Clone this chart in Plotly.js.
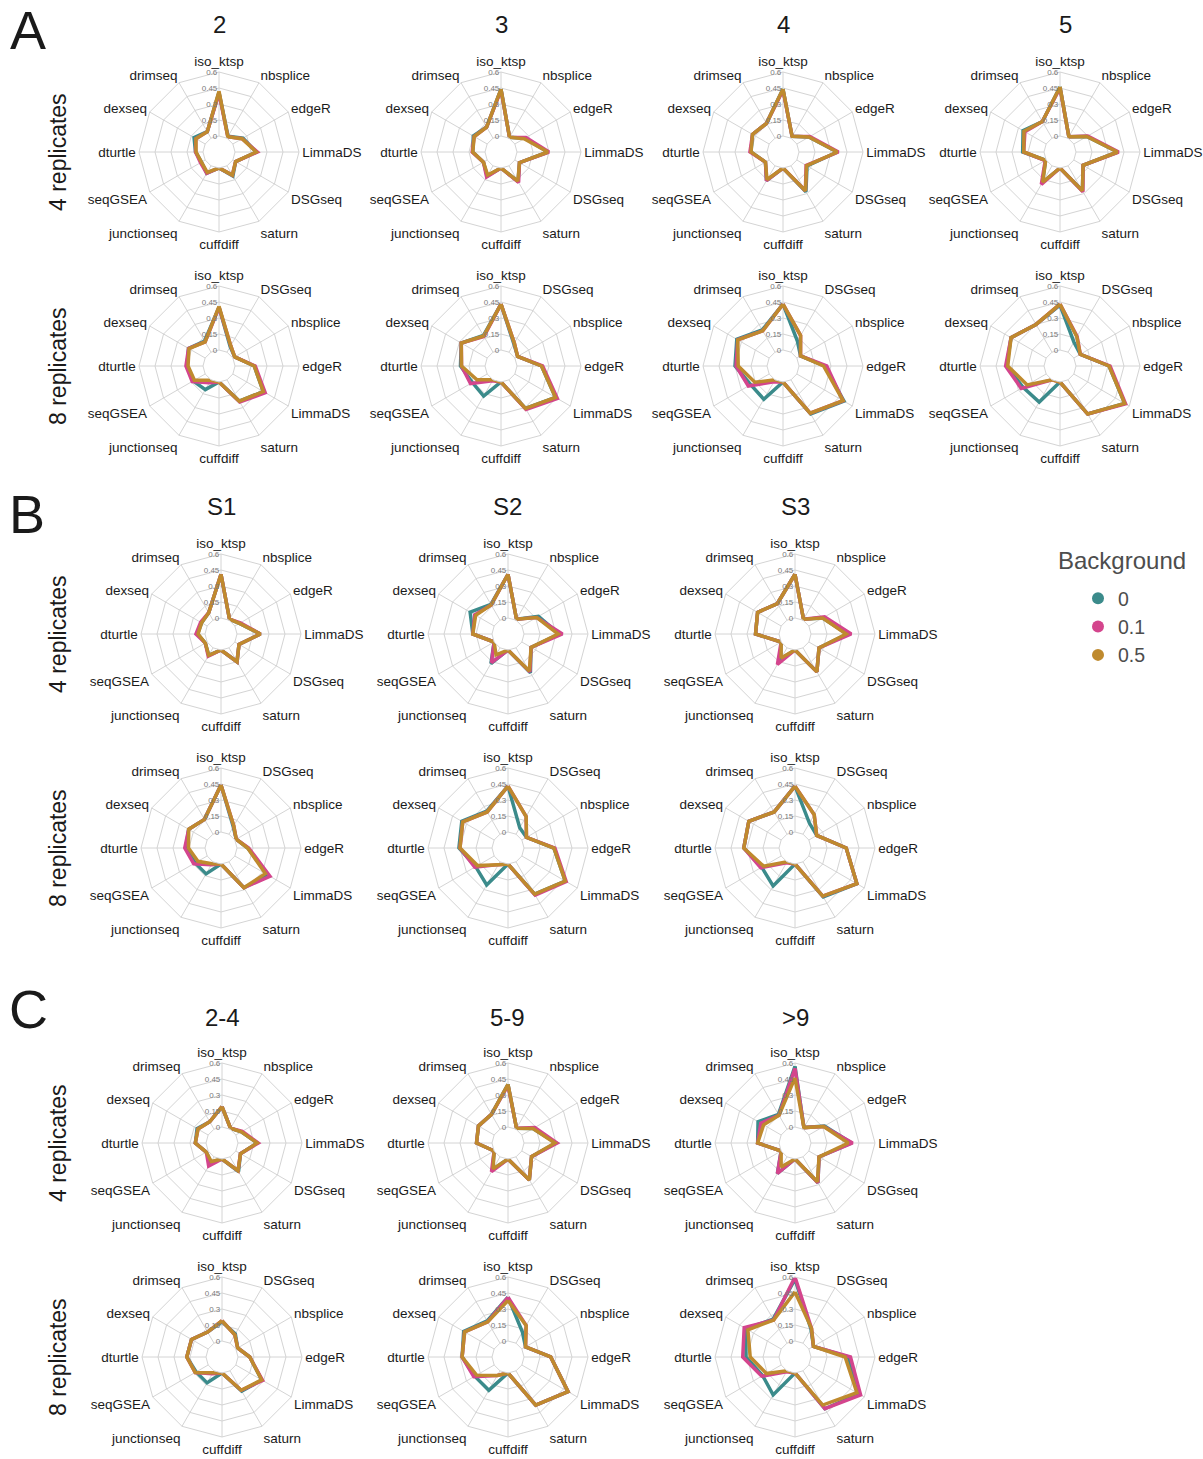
<!DOCTYPE html>
<html>
<head>
<meta charset="utf-8">
<script src="https://cdn.plot.ly/plotly-3.0.1.min.js"></script>
<style>html,body{margin:0;padding:0;background:#fff;}#chart{width:1203px;height:1459px;}</style>
</head>
<body>
<div id="chart"></div>
<script>
// ---------- DATA ----------
const cats4 = ['iso_ktsp','nbsplice','edgeR','LimmaDS','DSGseq','saturn','cuffdiff','junctionseq','seqGSEA','dturtle','dexseq','drimseq'];
const cats8 = ['iso_ktsp','DSGseq','nbsplice','edgeR','LimmaDS','saturn','cuffdiff','junctionseq','seqGSEA','dturtle','dexseq','drimseq'];
const backgrounds = ['0','0.1','0.5'];
const legendTitle = 'Background';
const radialTicks = [0, 0.15, 0.3, 0.45, 0.6];
const radialTickText = ['0','0.15','0.3','0.45','0.6'];
const titlesA = ['2','3','4','5'];
const titlesB = ['S1','S2','S3'];
const titlesC = ['2-4','5-9','>9'];
const rowLabels = ['4 replicates','8 replicates'];

// each panel: [background 0, background 0.1, background 0.5]
const A_2_rep4 = [
  [0.41,0.02,0.11,0.20,0.03,0.11,0,0.08,0.04,0.07,0.12,0.07],
  [0.40,0.015,0.10,0.21,0.03,0.10,0,0.08,0.05,0.07,0.10,0.07],
  [0.42,0.015,0.10,0.20,0.03,0.10,0,0.07,0.04,0.065,0.10,0.07]];
const A_3_rep4 = [
  [0.44,0.01,0.11,0.29,0.05,0.17,0,0.11,0.04,0.115,0.15,0.12],
  [0.43,0.01,0.12,0.30,0.05,0.18,0,0.12,0.04,0.12,0.14,0.12],
  [0.44,0.01,0.10,0.29,0.05,0.165,0,0.10,0.04,0.115,0.14,0.12]];
const A_4_rep4 = [
  [0.44,0.02,0.13,0.36,0.11,0.28,0,0.16,0.04,0.15,0.18,0.16],
  [0.43,0.02,0.14,0.37,0.10,0.27,0,0.16,0.04,0.16,0.18,0.16],
  [0.44,0.02,0.13,0.36,0.105,0.27,0,0.15,0.04,0.15,0.18,0.16]];
const A_5_rep4 = [
  [0.46,0.016,0.14,0.39,0.10,0.27,0,0.18,0.005,0.20,0.25,0.18],
  [0.45,0.016,0.15,0.40,0.10,0.28,0,0.20,0.01,0.19,0.23,0.18],
  [0.46,0.016,0.14,0.39,0.10,0.27,0,0.175,0.005,0.19,0.24,0.18]];
const A_2_rep8 = [
  [0.40,0.06,0.02,0.18,0.33,0.23,0,0.106,0.13,0.15,0.18,0.12],
  [0.40,0.07,0.02,0.19,0.35,0.24,0,0.03,0.14,0.16,0.18,0.11],
  [0.41,0.07,0.02,0.18,0.33,0.23,0,0.005,0.116,0.14,0.175,0.11]];
const A_3_rep8 = [
  [0.43,0.09,0.03,0.23,0.44,0.31,0,0.175,0.16,0.23,0.28,0.18],
  [0.43,0.10,0.03,0.24,0.46,0.32,0,0.01,0.18,0.22,0.28,0.17],
  [0.43,0.10,0.03,0.23,0.44,0.31,0,0.0,0.11,0.22,0.28,0.175]];
const A_4_rep8 = [
  [0.43,0.12,0.04,0.24,0.51,0.37,0,0.21,0.20,0.30,0.35,0.24],
  [0.43,0.18,0.04,0.26,0.50,0.36,0,0.02,0.225,0.29,0.34,0.23],
  [0.43,0.18,0.04,0.23,0.50,0.36,0,0.0,0.155,0.27,0.34,0.23]];
const A_5_rep8 = [
  [0.42,0.11,0.07,0.31,0.55,0.37,0,0.24,0.25,0.35,0.38,0.30],
  [0.43,0.17,0.07,0.32,0.56,0.37,0,0.0,0.27,0.36,0.38,0.30],
  [0.43,0.166,0.07,0.31,0.55,0.37,0,0.0,0.205,0.34,0.38,0.30]];
const B_S1_rep4 = [
  [0.41,0.01,0.05,0.22,0.045,0.15,0,0.08,0.02,0.07,0.06,0.08],
  [0.41,0.01,0.06,0.22,0.045,0.15,0,0.09,0.02,0.085,0.07,0.08],
  [0.41,0.01,0.05,0.22,0.045,0.15,0,0.08,0.02,0.065,0.06,0.08]];
const B_S2_rep4 = [
  [0.41,0.01,0.18,0.33,0.10,0.27,0,0.17,0.0,0.18,0.26,0.17],
  [0.41,0.01,0.16,0.36,0.10,0.26,0,0.16,0.0,0.18,0.21,0.165],
  [0.41,0.01,0.16,0.32,0.10,0.25,0,0.075,0.0,0.18,0.20,0.165]];
const B_S3_rep4 = [
  [0.41,0.01,0.15,0.34,0.11,0.26,0,0.12,0.0,0.22,0.255,0.18],
  [0.41,0.01,0.17,0.377,0.11,0.26,0,0.18,0.0,0.22,0.255,0.18],
  [0.41,0.01,0.15,0.33,0.11,0.26,0,0.11,0.0,0.22,0.255,0.18]];
const B_S1_rep8 = [
  [0.44,0.08,0.015,0.10,0.36,0.28,0,0.13,0.13,0.18,0.20,0.16],
  [0.44,0.09,0.015,0.11,0.38,0.28,0,0.03,0.145,0.19,0.20,0.16],
  [0.44,0.09,0.015,0.10,0.33,0.28,0,0.02,0.10,0.155,0.20,0.16]];
const B_S2_rep8 = [
  [0.43,0.07,0.05,0.28,0.47,0.35,0,0.25,0.20,0.31,0.35,0.25],
  [0.43,0.19,0.05,0.29,0.48,0.36,0,0.03,0.21,0.30,0.34,0.24],
  [0.43,0.19,0.05,0.28,0.47,0.35,0,0.03,0.18,0.30,0.34,0.24]];
const B_S3_rep8 = [
  [0.43,0.12,0.085,0.33,0.52,0.38,0,0.26,0.21,0.33,0.35,0.24],
  [0.43,0.21,0.085,0.33,0.52,0.37,0,0.01,0.22,0.33,0.35,0.24],
  [0.43,0.21,0.085,0.33,0.52,0.37,0,0.0,0.19,0.33,0.35,0.24]];
const C_24_rep4 = [
  [0.19,0.01,0.06,0.18,0.05,0.16,0,0.06,0.02,0.10,0.12,0.08],
  [0.19,0.01,0.07,0.19,0.05,0.15,0,0.10,0.02,0.10,0.11,0.08],
  [0.19,0.01,0.06,0.18,0.05,0.15,0,0.05,0.02,0.10,0.11,0.08]];
const C_59_rep4 = [
  [0.40,0.01,0.12,0.30,0.105,0.25,0,0.14,0.0,0.145,0.17,0.16],
  [0.39,0.01,0.14,0.31,0.105,0.25,0,0.16,0.0,0.145,0.17,0.16],
  [0.40,0.01,0.12,0.29,0.105,0.25,0,0.13,0.0,0.145,0.17,0.16]];
const C_9_rep4 = [
  [0.57,0.017,0.17,0.38,0.11,0.28,0,0.18,0.0,0.20,0.25,0.16],
  [0.55,0.017,0.16,0.39,0.11,0.28,0,0.18,0.0,0.20,0.22,0.15],
  [0.46,0.017,0.16,0.35,0.11,0.27,0,0.11,0.0,0.20,0.19,0.15]];
const C_24_rep8 = [
  [0.18,0.10,0.02,0.11,0.28,0.22,0,0.13,0.13,0.18,0.18,0.12],
  [0.19,0.09,0.02,0.11,0.29,0.21,0,0.03,0.14,0.18,0.18,0.12],
  [0.19,0.09,0.02,0.11,0.28,0.21,0,0.02,0.14,0.18,0.18,0.12]];
const C_59_rep8 = [
  [0.41,0.12,0.04,0.25,0.50,0.37,0,0.21,0.21,0.28,0.33,0.24],
  [0.41,0.19,0.04,0.25,0.50,0.37,0,0.05,0.22,0.28,0.32,0.23],
  [0.38,0.19,0.04,0.25,0.50,0.37,0,0.05,0.19,0.28,0.32,0.23]];
const C_9_rep8 = [
  [0.58,0.15,0.05,0.35,0.54,0.41,0,0.26,0.20,0.31,0.38,0.26],
  [0.60,0.16,0.05,0.37,0.56,0.41,0,0.01,0.21,0.34,0.40,0.25],
  [0.46,0.16,0.05,0.32,0.52,0.37,0,0.0,0.16,0.27,0.36,0.25]];

// ---------- LAYOUT / STYLE ----------
const W = 1203, H = 1459, RAD = 80;
const colors = ['#3B8B8B', '#D4458D', '#BF8A2E'];
const FONT = 'Liberation Sans, Arial, Helvetica, sans-serif';
const fx = x => x / W;
const fy = y => 1 - y / H;

const panels = [
  {v: A_2_rep4, c: cats4, cx: 219, cy: 152}, {v: A_3_rep4, c: cats4, cx: 501, cy: 152},
  {v: A_4_rep4, c: cats4, cx: 783, cy: 152}, {v: A_5_rep4, c: cats4, cx: 1060, cy: 152},
  {v: A_2_rep8, c: cats8, cx: 219, cy: 366}, {v: A_3_rep8, c: cats8, cx: 501, cy: 366},
  {v: A_4_rep8, c: cats8, cx: 783, cy: 366}, {v: A_5_rep8, c: cats8, cx: 1060, cy: 366},
  {v: B_S1_rep4, c: cats4, cx: 221, cy: 634}, {v: B_S2_rep4, c: cats4, cx: 508, cy: 634},
  {v: B_S3_rep4, c: cats4, cx: 795, cy: 634},
  {v: B_S1_rep8, c: cats8, cx: 221, cy: 848}, {v: B_S2_rep8, c: cats8, cx: 508, cy: 848},
  {v: B_S3_rep8, c: cats8, cx: 795, cy: 848},
  {v: C_24_rep4, c: cats4, cx: 222, cy: 1143}, {v: C_59_rep4, c: cats4, cx: 508, cy: 1143},
  {v: C_9_rep4, c: cats4, cx: 795, cy: 1143},
  {v: C_24_rep8, c: cats8, cx: 222, cy: 1357}, {v: C_59_rep8, c: cats8, cx: 508, cy: 1357},
  {v: C_9_rep8, c: cats8, cx: 795, cy: 1357}
];

const closeLoop = a => a.concat([a[0]]);
const traces = [];
const layout = {
  width: W, height: H,
  margin: {l: 0, r: 0, t: 0, b: 0},
  paper_bgcolor: '#ffffff',
  font: {family: FONT, color: '#1a1a1a'},
  showlegend: true,
  legend: {
    x: fx(1078), y: fy(579), xanchor: 'left', yanchor: 'top',
    font: {size: 19.5, color: '#4d4d4d'},
    itemsizing: 'constant', tracegroupgap: 0,
    bgcolor: 'rgba(0,0,0,0)'
  },
  annotations: []
};

panels.forEach((p, i) => {
  const name = i === 0 ? 'polar' : 'polar' + (i + 1);
  layout[name] = {
    domain: {x: [fx(p.cx - RAD), fx(p.cx + RAD)], y: [fy(p.cy + RAD), fy(p.cy - RAD)]},
    bgcolor: '#ffffff',
    gridshape: 'linear',
    hole: 0.2,
    radialaxis: {
      range: [0, 0.6], tickvals: radialTicks, ticktext: radialTickText,
      angle: 90, tickangle: 90, side: 'counterclockwise',
      showline: false, ticks: '', gridcolor: '#d4d4d4', gridwidth: 1,
      tickfont: {size: 8, color: '#7a7a7a', family: FONT}
    },
    angularaxis: {
      type: 'category', categoryarray: p.c, direction: 'clockwise', rotation: 90,
      ticks: '', gridcolor: '#d4d4d4', linecolor: '#d4d4d4', linewidth: 1, showline: true,
      tickfont: {size: 13.5, color: '#1a1a1a', family: FONT}
    }
  };
  p.v.forEach((vals, j) => {
    traces.push({
      type: 'scatterpolar', subplot: name, mode: 'lines',
      r: closeLoop(vals), theta: closeLoop(p.c),
      line: {color: colors[j], width: 3.5},
      name: backgrounds[j], legendgroup: backgrounds[j], showlegend: false,
      hovertemplate: '%{theta}: %{r}<extra>' + backgrounds[j] + '</extra>'
    });
  });
});

// legend entries (circle keys) - a single null point so nothing is drawn on the chart
backgrounds.forEach((b, j) => {
  traces.push({
    type: 'scatterpolar', subplot: 'polar', mode: 'markers', r: [null], theta: [cats4[0]],
    marker: {color: colors[j], size: 15, symbol: 'circle'},
    name: b, legendgroup: b, showlegend: true
  });
});

function addText(text, x, y, size, opts) {
  layout.annotations.push(Object.assign({
    text: text, x: fx(x), y: fy(y), xref: 'paper', yref: 'paper',
    xanchor: 'center', yanchor: 'middle', showarrow: false,
    font: {size: size, color: '#1a1a1a', family: FONT}
  }, opts || {}));
}

// legend title
addText(legendTitle, 1056, 560, 24, {xanchor: 'left', font: {size: 24, color: '#4d4d4d', family: FONT}});

// section letters
addText('A', 28, 30, 54);
addText('B', 27, 514, 54);
addText('C', 28, 1009, 54);

// column titles
titlesA.forEach((t, k) => addText(t, [219, 501, 783, 1065][k], 24, 24));
titlesB.forEach((t, k) => addText(t, [221, 508, 795][k], 507, 24));
titlesC.forEach((t, k) => addText(t, [222, 508, 795][k], 1017, 24));

// row labels
[[152, 0], [366, 1], [634, 0], [848, 1], [1143, 0], [1357, 1]].forEach(([y, k]) => {
  addText(rowLabels[k], 58, y, 23, {textangle: -90});
});

Plotly.newPlot('chart', traces, layout, {displayModeBar: false, staticPlot: true});
</script>
</body>
</html>
